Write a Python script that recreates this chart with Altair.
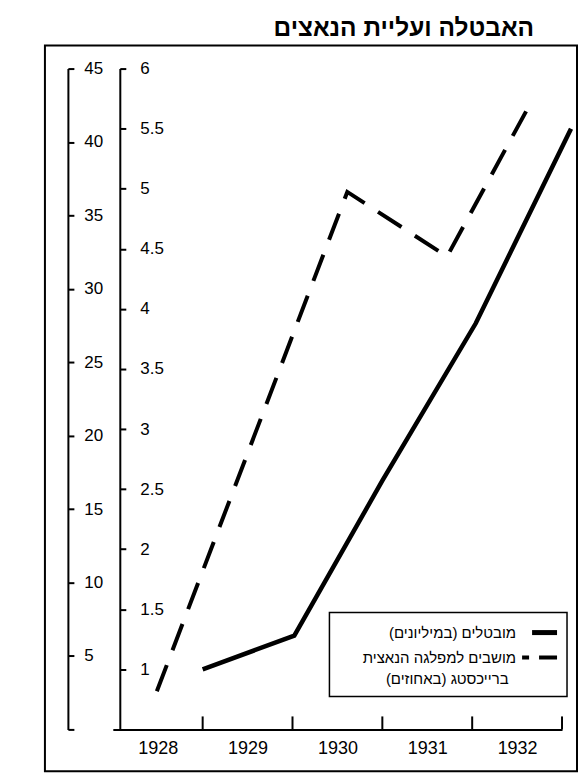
import altair as alt
import pandas as pd

# ---- data ----
title_text = "האבטלה ועליית הנאצים"
legend_labels = ["\u200fמובטלים (במיליונים)\u200f", "\u200fמושבים למפלגה הנאצית\u200f", "\u200fברייכסטג (באחוזים)\u200f"]

# unemployed (millions) - inner axis
unemp_x = [1929.0, 1930.02, 1931.0, 1932.04, 1933.1]
unemp_y = [1.0, 1.28, 2.57, 3.88, 5.5]

# Nazi party seats in Reichstag (percent) - outer axis
nazi_x = [1928.49, 1930.61, 1931.72, 1932.61]
nazi_y = [2.6, 36.6, 32.2, 42.2]

year_labels_at = [1928.5, 1929.5, 1930.5, 1931.5, 1932.5]
tick_years = [1929, 1930, 1931, 1932, 1933]
inner_ticks = [1, 1.5, 2, 2.5, 3, 3.5, 4, 4.5, 5, 5.5, 6]
outer_ticks = [0, 5, 10, 15, 20, 25, 30, 35, 40, 45]

FONT = "Liberation Sans"
W, H = 450, 662

unemp_df = pd.DataFrame({"year": unemp_x, "value": unemp_y})
nazi_df = pd.DataFrame({"year": nazi_x, "value": nazi_y})
ticks_df = pd.DataFrame({"year": tick_years})
one = pd.DataFrame({"k": [0]})

xscale = alt.Scale(domain=[1928, 1933], nice=False, zero=False)
xaxis = alt.Axis(values=year_labels_at, labelExpr="floor(datum.value)", ticks=False,
                 grid=False, title=None, domainWidth=2, labelFontSize=18, labelPadding=10)

frame = alt.Chart(one).mark_rect(fillOpacity=0, stroke="black", strokeWidth=2, clip=False).encode(
    x=alt.value(-68), x2=alt.value(465), y=alt.value(-23), y2=alt.value(704))

xticks = alt.Chart(ticks_df).mark_rule(color="black", strokeWidth=2, clip=False).encode(
    x=alt.X("year:Q", scale=xscale, axis=xaxis),
    y=alt.value(H), y2=alt.value(H - 13))

unemp = alt.Chart(unemp_df).mark_line(color="black", strokeWidth=4.5, clip=False).encode(
    x=alt.X("year:Q", scale=xscale, axis=xaxis),
    y=alt.Y("value:Q", scale=alt.Scale(domain=[0.5, 6], nice=False, zero=False),
            axis=alt.Axis(orient="right", offset=-443, values=inner_ticks, format="~g",
                          tickSize=6, labelPadding=14, title=None, grid=False,
                          domainWidth=2, tickWidth=2, labelFontSize=17)))

nazi = alt.Chart(nazi_df).mark_line(color="black", strokeWidth=4, strokeDash=[28, 16], clip=False).encode(
    x=alt.X("year:Q", scale=xscale, axis=xaxis),
    y=alt.Y("value:Q", scale=alt.Scale(domain=[0, 45], nice=False, zero=False),
            axis=alt.Axis(orient="right", offset=-495, values=outer_ticks, format="d",
                          labelExpr="datum.value == 0 ? '' : datum.label",
                          tickSize=6, labelPadding=10, title=None, grid=False,
                          domainWidth=2, tickWidth=2, labelFontSize=17)))

legend_box = alt.Chart(one).mark_rect(fill="white", stroke="black", strokeWidth=1.5, clip=False).encode(
    x=alt.value(217), x2=alt.value(455), y=alt.value(545), y2=alt.value(629))

leg_solid = alt.Chart(one).mark_rule(color="black", strokeWidth=5, clip=False).encode(
    x=alt.value(420), x2=alt.value(445), y=alt.value(565))
leg_dash = alt.Chart(one).mark_rule(color="black", strokeWidth=4, strokeDash=[7, 10, 18, 10], clip=False).encode(
    x=alt.value(410), x2=alt.value(445), y=alt.value(590))

def leg_text(i, x, y, align):
    return alt.Chart(pd.DataFrame({"t": [legend_labels[i]]})).mark_text(
        align=align, baseline="middle", font=FONT, fontSize=15, color="black", clip=False
    ).encode(x=alt.value(x), y=alt.value(y), text="t:N")

chart = alt.layer(
    frame, xticks, unemp, nazi, legend_box, leg_solid, leg_dash,
    leg_text(0, 404, 565, "right"), leg_text(1, 404, 590, "right"), leg_text(2, 335, 612, "center")
).resolve_scale(y="independent").properties(
    width=W, height=H,
    autosize="none",
    padding={"left": 105, "top": 60, "right": 16, "bottom": 45},
    title=alt.TitleParams(title_text, anchor="end", dx=-46, fontSize=24.5, font=FONT,
                          fontWeight="bold", offset=3, color="black"),
).configure_view(strokeWidth=0).configure_axis(
    labelFont=FONT, labelColor="black", domainColor="black", tickColor="black"
)

chart.save("out.html", embed_options={"renderer": "svg", "actions": False})
